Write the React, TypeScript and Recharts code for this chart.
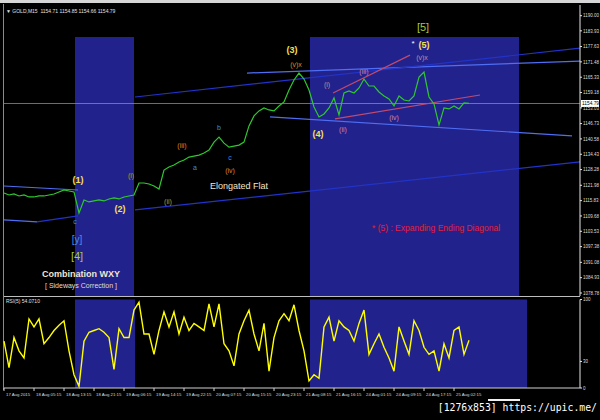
import { ComposedChart, Line, XAxis, YAxis, ReferenceArea, ReferenceLine, ReferenceDot } from "recharts";

// GOLD M15 with Elliott wave marks, RSI(5) panel underneath

const priceValues = [
  1118.9, 1118.1, 1118.5, 1117.7, 1118.1, 1117.3, 1117.3, 1117.7, 1117.7, 1118.1,
  1118.5, 1119.3, 1120.1, 1119.7, 1119.3, 1110.9, 1116.1, 1115.3, 1115.7, 1116.1,
  1115.7, 1116.5, 1116.9, 1116.5, 1117.3, 1117.7, 1118.1, 1122.9, 1122.9, 1122.5,
  1121.7, 1120.5, 1128.1, 1129.3, 1130.1, 1131.3, 1132.1, 1133.3, 1133.7, 1134.1,
  1134.9, 1136.1, 1139.3, 1141.3, 1138.9, 1137.3, 1137.7, 1138.1, 1139.3, 1145.8,
  1149.8, 1151.8, 1153.0, 1152.2, 1151.8, 1153.8, 1155.4, 1160.2, 1164.2, 1167.0,
  1164.6, 1160.2, 1153.4, 1149.4, 1150.6, 1153.0, 1157.0, 1150.2, 1159.0, 1159.8,
  1159.0, 1161.0, 1164.6, 1161.8, 1161.8, 1159.4, 1157.8, 1156.6, 1153.8, 1157.8,
  1156.2, 1155.8, 1157.8, 1165.4, 1167.4, 1157.4, 1154.6, 1146.2, 1153.0, 1152.6,
  1153.8, 1152.6, 1155.0, 1154.8,
];

const rsiValues = [
  53, 23, 57, 42, 34, 78, 69, 78, 50, 57,
  65, 71, 76, 42, 15, 2, 53, 63, 65, 67,
  63, 57, 21, 67, 57, 57, 88, 97, 61, 61,
  38, 65, 86, 69, 86, 61, 80, 65, 73, 69,
  65, 95, 69, 95, 50, 42, 25, 61, 76, 88,
  61, 42, 73, 19, 57, 76, 84, 76, 94, 65,
  42, 8, 15, 11, 69, 80, 53, 76, 69, 65,
  53, 73, 88, 38, 50, 61, 46, 34, 19, 69,
  53, 38, 76, 65, 46, 38, 42, 19, 50, 34,
  65, 69, 38, 54,
];

const timeLabels = [
  "17 Aug 2015", "18 Aug 05:15", "18 Aug 13:15", "18 Aug 21:15", "19 Aug 06:15", "19 Aug 14:15",
  "19 Aug 22:15", "20 Aug 07:15", "20 Aug 15:15", "20 Aug 23:15", "21 Aug 08:15", "21 Aug 16:15",
  "24 Aug 01:15", "24 Aug 09:15", "24 Aug 17:15", "25 Aug 02:15",
];

const priceTicks = [
  1190.0, 1183.93, 1177.63, 1171.48, 1165.33, 1159.18, 1153.03, 1146.73, 1140.58, 1134.43,
  1128.28, 1121.98, 1115.83, 1109.68, 1103.53, 1097.38, 1091.08, 1084.93, 1078.78,
];
const rsiTicks = [0, 30, 100];

const lastPrice = 1154.79;
const quote = "1154.71 1154.85 1154.66 1154.79";
const rsiLast = "54.0710";

// time windows (bar index) highlighted on both panels
const sessionsMain = [
  { from: 14.2, to: 26.0, top: 1181.5 },
  { from: 61.2, to: 103.0, top: 1181.5 },
];
const sessionsRsi = [
  { from: 14.2, to: 26.2 },
  { from: 61.2, to: 104.6 },
];

// trend lines: [bar, price] -> [bar, price]
const trendLines = [
  { kind: "light", a: [48.6, 1167.0], b: [115.2, 1171.8] },
  { kind: "dark", a: [26.2, 1157.4], b: [115.2, 1177.0] },
  { kind: "light", a: [53.2, 1149.4], b: [113.6, 1141.8] },
  { kind: "dark", a: [26.2, 1112.1], b: [115.2, 1131.4] },
  { kind: "light", a: [0, 1121.7], b: [14.8, 1120.1] },
  { kind: "light", a: [0, 1108.1], b: [6.6, 1107.3] },
  { kind: "dark", a: [6.6, 1107.3], b: [14.8, 1109.7] },
  { kind: "pink", a: [65.8, 1159.0], b: [81.2, 1174.2] },
  { kind: "pink", a: [66.2, 1148.6], b: [95.2, 1158.2] },
];

const waveLabels = [
  { text: "[5]", i: 83.8, p: 1185.5, kind: "degree" },
  { text: "*", i: 81.8, p: 1178.8, kind: "star" },
  { text: "(5)", i: 84.0, p: 1178.2, kind: "major" },
  { text: "(v)x", i: 83.6, p: 1173.4, kind: "pink" },
  { text: "(iii)", i: 72.0, p: 1167.8, kind: "pink" },
  { text: "(i)", i: 64.6, p: 1162.6, kind: "pink" },
  { text: "(ii)", i: 67.8, p: 1144.2, kind: "pink" },
  { text: "(iv)", i: 78.0, p: 1149.0, kind: "pink" },
  { text: "(4)", i: 62.8, p: 1142.5, kind: "major" },
  { text: "(3)", i: 57.6, p: 1176.2, kind: "major" },
  { text: "(v)x", i: 58.4, p: 1170.6, kind: "minor" },
  { text: "(iii)", i: 35.6, p: 1138.1, kind: "minor" },
  { text: "b", i: 43.0, p: 1145.0, kind: "abc" },
  { text: "a", i: 38.2, p: 1129.3, kind: "abc" },
  { text: "c", i: 45.2, p: 1133.3, kind: "abc" },
  { text: "(iv)", i: 45.2, p: 1128.1, kind: "minor" },
  { text: "(i)", i: 25.4, p: 1126.1, kind: "minor" },
  { text: "(ii)", i: 32.8, p: 1115.3, kind: "minor" },
  { text: "Elongated Flat", i: 47.0, p: 1121.7, kind: "note" },
  { text: "(2)", i: 23.2, p: 1112.5, kind: "major" },
  { text: "(1)", i: 14.8, p: 1124.3, kind: "major" },
  { text: "c", i: 14.2, p: 1107.3, kind: "abc" },
  { text: "[y]", i: 14.6, p: 1100.4, kind: "bracket" },
  { text: "[4]", i: 14.6, p: 1093.6, kind: "degree" },
  { text: "Combination WXY", i: 15.4, p: 1086.4, kind: "noteBold" },
  { text: "[ Sideways Correction ]", i: 15.4, p: 1081.6, kind: "noteSmall" },
  { text: "* (5) : Expanding Ending Diagonal", i: 86.4, p: 1104.8, kind: "red" },
];

const labelStyle: Record<string, { fill: string; size: number; weight?: string }> = {
  degree: { fill: "#a8c840", size: 11 },
  star: { fill: "#ffffff", size: 8 },
  major: { fill: "#f5e050", size: 9, weight: "bold" },
  pink: { fill: "#c48aa0", size: 7 },
  minor: { fill: "#d9892e", size: 7 },
  abc: { fill: "#3a8ee0", size: 7 },
  bracket: { fill: "#4d8fe0", size: 10 },
  note: { fill: "#f2e6cc", size: 9 },
  noteBold: { fill: "#f2e6cc", size: 9, weight: "bold" },
  noteSmall: { fill: "#e8dcc0", size: 7 },
  red: { fill: "#e6203a", size: 8.5 },
};

const lineColors: Record<string, string> = {
  light: "#4f6ef2",
  dark: "#2233c8",
  pink: "#c24a6c",
};

const FONT = "'Liberation Sans', Arial, sans-serif";
const X_MAX = 115.2;
const priceDomain = [1077.58, 1194.29];

const data = priceValues.map((p, i) => ({ i, p, rsi: rsiValues[i] }));

function PriceTick({ x, y, payload }: any) {
  return (
    <text x={x} y={y} dy={1.7} fontSize={4.5} fill="#dddddd" fontFamily={FONT}>
      {payload.value.toFixed(2)}
    </text>
  );
}

function RsiTick({ x, y, payload }: any) {
  return (
    <text x={x} y={y} dy={1.7} fontSize={4.5} fill="#dddddd" fontFamily={FONT}>
      {payload.value}
    </text>
  );
}

function TimeTick({ x, y, payload }: any) {
  const label = timeLabels[Math.round(payload.value / 6)];
  return (
    <text x={x + 2} y={y + 3} fontSize={4.3} fill="#dddddd" fontFamily={FONT}>
      {label}
    </text>
  );
}

function PriceTag({ cx, cy }: any) {
  return (
    <g>
      <rect x={cx + 1} y={cy - 3.5} width={18} height={7} fill="#ffffff" />
      <text x={cx + 2} y={cy + 1.8} fontSize={4.8} fill="#000000" fontFamily={FONT}>
        {lastPrice.toFixed(2)}
      </text>
    </g>
  );
}

export default function App() {
  return (
    <div style={{ position: "fixed", left: 0, top: 0, width: 600, height: 420, background: "#000", overflow: "hidden" }}>
      <div style={{ position: "absolute", left: 0, top: 0, width: 600, height: 3, background: "#d6d6d6" }} />
      <div style={{ position: "absolute", left: 3, top: 4, width: 1, height: 386, background: "#8a8a8a" }} />
      <div style={{ position: "absolute", left: 4, top: 296, width: 576, height: 1, background: "#bdbdbd" }} />
      <div style={{ position: "absolute", left: 6, top: 8, fontSize: 5, color: "#e0e0e0", fontFamily: FONT, whiteSpace: "pre" }}>
        {"▼ GOLD,M15  " + quote}
      </div>

      <div style={{ position: "absolute", left: 0, top: 0 }}>
        <ComposedChart width={600} height={297} data={data} margin={{ top: 5, right: 0, bottom: 1, left: 4 }}>
          <XAxis dataKey="i" type="number" domain={[0, X_MAX]} hide />
          <YAxis
            orientation="right"
            width={20}
            domain={priceDomain}
            ticks={priceTicks}
            interval={0}
            tick={<PriceTick />}
            tickSize={2}
            tickMargin={1}
            axisLine={{ stroke: "#e6e6e6" }}
            tickLine={{ stroke: "#e6e6e6" }}
            allowDataOverflow
          />
          {sessionsMain.map((s, k) => (
            <ReferenceArea key={k} x1={s.from} x2={s.to} y1={priceDomain[0]} y2={s.top} fill="#22228c" fillOpacity={1} stroke="none" ifOverflow="visible" />
          ))}
          <ReferenceLine y={lastPrice} stroke="#8c8c8c" strokeWidth={0.8} />
          {trendLines.map((t, k) => (
            <ReferenceLine
              key={k}
              segment={[{ x: t.a[0], y: t.a[1] }, { x: t.b[0], y: t.b[1] }]}
              stroke={lineColors[t.kind]}
              strokeWidth={1.2}
              ifOverflow="visible"
            />
          ))}
          <Line dataKey="p" type="linear" stroke="#2ec82e" strokeWidth={1.2} dot={false} isAnimationActive={false} />
          {waveLabels.map((w, k) => {
            const st = labelStyle[w.kind];
            return (
              <ReferenceDot
                key={k}
                x={w.i}
                y={w.p}
                r={0}
                ifOverflow="visible"
                shape={(props: any) => (
                  <text
                    x={props.cx}
                    y={props.cy}
                    textAnchor="middle"
                    dominantBaseline="central"
                    fontSize={st.size}
                    fontWeight={st.weight || "normal"}
                    fill={st.fill}
                    fontFamily={FONT}
                  >
                    {w.text}
                  </text>
                )}
              />
            );
          })}
          <ReferenceDot x={X_MAX} y={lastPrice} r={0} ifOverflow="visible" shape={<PriceTag />} />
        </ComposedChart>
      </div>

      <div style={{ position: "absolute", left: 0, top: 296 }}>
        <ComposedChart width={600} height={112} data={data} margin={{ top: 3.5, right: 0, bottom: 0, left: 4 }}>
          <XAxis
            dataKey="i"
            type="number"
            domain={[0, X_MAX]}
            ticks={timeLabels.map((_, k) => k * 6)}
            interval={0}
            height={20}
            tick={<TimeTick />}
            tickSize={3}
            axisLine={{ stroke: "#d0d0d0" }}
            tickLine={{ stroke: "#d0d0d0" }}
          />
          <YAxis
            orientation="right"
            width={20}
            domain={[0, 100]}
            ticks={rsiTicks}
            interval={0}
            tick={<RsiTick />}
            tickSize={2}
            tickMargin={1}
            axisLine={{ stroke: "#e6e6e6" }}
            tickLine={{ stroke: "#e6e6e6" }}
          />
          {sessionsRsi.map((s, k) => (
            <ReferenceArea key={k} x1={s.from} x2={s.to} y1={0} y2={100} fill="#22228c" fillOpacity={1} stroke="none" ifOverflow="visible" />
          ))}
          <Line dataKey="rsi" type="linear" stroke="#ffff00" strokeWidth={1.4} dot={false} isAnimationActive={false} />
        </ComposedChart>
      </div>

      <div style={{ position: "absolute", left: 6, top: 298, fontSize: 5, color: "#e0e0e0", fontFamily: FONT, whiteSpace: "pre" }}>
        {"RSI(5) " + rsiLast}
      </div>
      <div style={{ position: "absolute", left: 488, top: 399, width: 32, height: 2, background: "#f0f0f0" }} />
      <div style={{ position: "absolute", right: 3, top: 402, fontSize: 9.8, color: "#ffffff", fontFamily: "'DejaVu Sans Mono', monospace", whiteSpace: "pre" }}>
        [1276x853] https://upic.me/
      </div>
    </div>
  );
}
